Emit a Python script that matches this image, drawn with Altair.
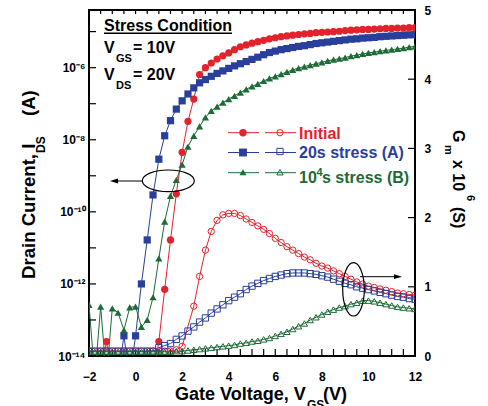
import altair as alt
import pandas as pd

# ---------------- data ----------------
V = [-2, -1.75, -1.5, -1.25, -1, -0.75, -0.5, -0.25, 0, 0.25, 0.5, 0.75,
     1, 1.25, 1.5, 1.75, 2, 2.25, 2.5, 2.75, 3, 3.25, 3.5, 3.75,
     4, 4.25, 4.5, 4.75, 5, 5.25, 5.5, 5.75,
     6, 6.25, 6.5, 6.75, 7, 7.25, 7.5, 7.75,
     8, 8.25, 8.5, 8.75, 9, 9.25, 9.5, 9.75,
     10, 10.25, 10.5, 10.75, 11, 11.25, 11.5, 11.75, 12]

# log10 of drain current (A); values below 1e-14 fall under the axis floor
id_initial_log = [-14.6, -14.6, -14.6, -13.6, -14.6, -14.6, -14.6, -14.6, -14.6, -14.6, -14.6, -14.6,
                  -13.6, -12.15, -10.78, -9.5, -8.35, -7.49, -6.87, -6.19, -6.0, -5.87, -5.76, -5.67,
                  -5.59, -5.5, -5.42, -5.37, -5.32, -5.28, -5.24, -5.2,
                  -5.17, -5.14, -5.12, -5.1, -5.08, -5.06, -5.05, -5.03,
                  -5.02, -5.01, -5.0, -4.99, -4.97, -4.96, -4.95, -4.94,
                  -4.94, -4.93, -4.92, -4.91, -4.91, -4.9, -4.9, -4.89, -4.89]
id_20s_log = [-14.6, -14.6, -14.6, -14.6, -14.6, -14.6, -13.44, -14.6, -13.44, -12.0, -10.78, -9.53,
              -8.54, -7.89, -7.47, -7.15, -6.92, -6.73, -6.56, -6.42, -6.33, -6.24, -6.16, -6.09,
              -6.02, -5.95, -5.89, -5.83, -5.77, -5.71, -5.64, -5.58,
              -5.54, -5.5, -5.47, -5.44, -5.41, -5.39, -5.36, -5.33,
              -5.31, -5.29, -5.27, -5.25, -5.23, -5.21, -5.2, -5.18,
              -5.17, -5.16, -5.14, -5.13, -5.12, -5.11, -5.1, -5.09, -5.08]
id_1e4_log = [-12.58, -14.6, -12.63, -14.6, -12.68, -12.8, -13.28, -12.65, -12.63, -13.19, -13.0, -12.37,
              -11.29, -10.27, -9.56, -9.11, -8.69, -8.19, -7.89, -7.63, -7.38, -7.2, -7.08, -6.97,
              -6.87, -6.78, -6.69, -6.6, -6.52, -6.45, -6.37, -6.3,
              -6.24, -6.18, -6.12, -6.06, -6.01, -5.97, -5.93, -5.89,
              -5.85, -5.81, -5.78, -5.75, -5.72, -5.68, -5.65, -5.62,
              -5.59, -5.57, -5.54, -5.52, -5.5, -5.48, -5.46, -5.43, -5.41]

# transconductance (x 1e-6 S)
gm_initial = [0.07] * 15 + [0.09, 0.14, None, 0.72, 1.15, 1.53, 1.80, 1.96, 2.04,
              2.06, 2.06, 2.03, 1.98, 1.93, 1.88, 1.83, 1.77,
              1.70, 1.64, 1.58, 1.53, 1.48, 1.43, 1.39, 1.34,
              1.30, 1.27, 1.23, 1.19, 1.15, 1.11, 1.07, 1.04,
              1.01, 0.99, 0.97, 0.95, 0.93, 0.91, 0.90, 0.89, 0.88]
gm_20s = [0.07] * 12 + [0.12, 0.15, 0.18, 0.24, 0.29, 0.36, 0.42, 0.49, 0.55, 0.62, 0.68, 0.74,
          0.80, 0.85, 0.90, 0.96, 1.01, 1.05, 1.09, 1.12,
          1.15, 1.17, 1.19, 1.20, 1.20, 1.20, 1.19, 1.18,
          1.16, 1.14, 1.11, 1.08, 1.05, 1.03, 1.00, 0.98,
          0.96, 0.94, 0.92, 0.90, 0.88, 0.86, 0.85, 0.83, 0.82]
gm_1e4 = [0.06] * 12 + [0.06, 0.06, 0.06, 0.07, 0.07, 0.08, 0.09, 0.10, 0.11, 0.12, 0.13, 0.14,
          0.15, 0.16, 0.18, 0.19, 0.21, 0.22, 0.24, 0.26,
          0.29, 0.32, 0.35, 0.39, 0.43, 0.47, 0.52, 0.56,
          0.60, 0.64, 0.67, 0.70, 0.72, 0.75, 0.77, 0.80,
          0.80, 0.79, 0.77, 0.75, 0.73, 0.71, 0.70, 0.69, 0.68]

series = ["Initial", "20s stress (A)", "10^4s stress (B)"]
x_labels = [-2, 0, 2, 4, 6, 8, 10, 12]
x_minor = [i / 2 for i in range(-4, 25)]
left_exps = [-14, -12, -10, -8, -6]
left_decades = [-14, -13, -12, -11, -10, -9, -8, -7, -6, -5]
right_ticks = [0, 1, 2, 3, 4, 5]

# ---------------- style ----------------
FONT = "Liberation Sans, Arial, sans-serif"
NARROW = "Liberation Sans Narrow, Liberation Sans, Arial, sans-serif"
RED, BLUE, GREEN = "#e2232b", "#2a3f9c", "#1d6b36"
colors = [RED, BLUE, GREEN]
W, H = 326, 346
L, T = 89, 10

rows = []
for s, vals in zip(series, [id_initial_log, id_20s_log, id_1e4_log]):
    for v, e in zip(V, vals):
        rows.append({"V": v, "Id": 10 ** e, "s": s})
df_id = pd.DataFrame(rows)
rows = []
for s, vals in zip(series, [gm_initial, gm_20s, gm_1e4]):
    for v, g in zip(V, vals):
        if g is not None:
            rows.append({"V": v, "Gm": g, "s": s})
df_gm = pd.DataFrame(rows)

x_scale = alt.Scale(domain=[-2, 12], nice=False, zero=False)
y_log = alt.Scale(type="log", domain=[1e-14, 10 ** -4.4], nice=False)
y_gm = alt.Scale(domain=[0, 5], nice=False, zero=True)
c_scale = alt.Scale(domain=series, range=colors)
sh_scale = alt.Scale(domain=series, range=["circle", "square", "triangle-up"])

SUP = {"-": "\u207b", "0": "\u2070", "1": "\u00b9", "2": "\u00b2", "4": "\u2074",
       "6": "\u2076", "8": "\u2078"}
expr = ""
for e in left_exps:
    lab = "10" + "".join(SUP[ch] for ch in str(e))
    expr += f"datum.value < {10.0 ** (e + 1):g} ? '{lab}' : "
expr += "''"

x_axis = alt.Axis(values=x_labels, ticks=False, domain=False, grid=False, title=None,
                  labelFontSize=12, labelPadding=15, labelFlush=False)
left_axis = alt.Axis(values=[10.0 ** e for e in left_exps], labelExpr=expr, ticks=False,
                     domain=False, grid=False, title=None, labelFontSize=12, labelPadding=4,
                     labelFlush=False)
right_axis = alt.Axis(orient="right", values=right_ticks, format="d", ticks=False, domain=False,
                      grid=False, title=None, labelFontSize=12, labelPadding=9)

X = alt.X("V:Q", scale=x_scale, axis=x_axis)
COL = alt.Color("s:N", scale=c_scale, legend=None)
SH = alt.Shape("s:N", scale=sh_scale, legend=None)

# ---------------- drain current (left, log) ----------------
id_base = alt.Chart(df_id).encode(x=X, y=alt.Y("Id:Q", scale=y_log, axis=left_axis), color=COL)
id_lines = id_base.mark_line(strokeWidth=1, clip=True)
id_pts = id_base.mark_point(filled=True, size=52, opacity=1, clip=True).encode(shape=SH)

ltick = alt.Chart(pd.DataFrame({"t": [10.0 ** e for e in left_decades]})).mark_rule(
    color="black", strokeWidth=1.2).encode(
    y=alt.Y("t:Q", scale=y_log, axis=left_axis), x=alt.value(0), x2=alt.value(7))
xt = pd.DataFrame({"t": x_minor})
btick = alt.Chart(xt).mark_rule(color="black", strokeWidth=1.2).encode(
    x=alt.X("t:Q", scale=x_scale, axis=x_axis), y=alt.value(H - 7), y2=alt.value(H))
ttick = alt.Chart(xt).mark_rule(color="black", strokeWidth=1.2).encode(
    x=alt.X("t:Q", scale=x_scale, axis=x_axis), y=alt.value(0), y2=alt.value(4))

id_group = alt.layer(id_lines, id_pts, ltick, btick, ttick)

# ---------------- transconductance (right, linear) ----------------
gm_base = alt.Chart(df_gm).encode(x=X, y=alt.Y("Gm:Q", scale=y_gm, axis=right_axis), color=COL)
gm_lines = gm_base.mark_line(strokeWidth=1, clip=True)
gm_pts = gm_base.mark_point(filled=False, size=40, strokeWidth=1, opacity=1, clip=True).encode(shape=SH)
rtick = alt.Chart(pd.DataFrame({"t": right_ticks})).mark_rule(color="black", strokeWidth=1.2).encode(
    y=alt.Y("t:Q", scale=y_gm, axis=right_axis), x=alt.value(W - 7), x2=alt.value(W))
gm_group = alt.layer(gm_lines, gm_pts, rtick)

# ---------------- annotations ----------------
one = pd.DataFrame({"k": [0]})


def txt(s, x, y, size, color="black", angle=0, font=FONT):
    return alt.Chart(one).mark_text(text=s, fontSize=size, fontWeight="bold", font=font,
                                    color=color, angle=angle, align="left",
                                    baseline="alphabetic").encode(
        x=alt.value(x - L), y=alt.value(y - T))


def hline(x1, x2, y, color="black", width=1.0):
    return alt.Chart(one).mark_rule(color=color, strokeWidth=width).encode(
        x=alt.value(x1 - L), x2=alt.value(x2 - L), y=alt.value(y - T))


def sym(shape, x, y, size, color, filled, sw=1.0):
    return alt.Chart(one).mark_point(shape=shape, size=size, color=color, filled=filled,
                                     opacity=1, strokeWidth=sw).encode(
        x=alt.value(x - L), y=alt.value(y - T))


def ellipse_path(rx, ry):
    c = 0.5523
    return (f"M{rx},0 C{rx},{c*ry:.4f} {c*rx:.4f},{ry} 0,{ry} "
            f"C{-c*rx:.4f},{ry} {-rx},{c*ry:.4f} {-rx},0 "
            f"C{-rx},{-c*ry:.4f} {-c*rx:.4f},{-ry} 0,{-ry} "
            f"C{c*rx:.4f},{-ry} {rx},{-c*ry:.4f} {rx},0 Z")


ann = [
    # stress condition box
    txt("Stress Condition", 104, 31, 16),
    hline(104, 232, 33.3, width=1.5),
    txt("V", 104, 53, 16), txt("GS", 116, 61.5, 11), txt("= 10V", 133, 53, 16),
    txt("V", 104, 80, 16), txt("DS", 116, 88.5, 11), txt("= 20V", 133, 80, 16),
    # legend
    hline(228, 259, 132.7, RED), hline(265, 296, 132.7, RED),
    sym("circle", 243, 132.7, 55, RED, True), sym("circle", 280, 132.7, 40, RED, False),
    hline(228, 259, 152.5, BLUE), hline(265, 296, 152.5, BLUE),
    sym("square", 243, 152.5, 62, BLUE, True), sym("square", 280, 151.5, 40, BLUE, False),
    hline(228, 259, 172.7, GREEN), hline(265, 296, 172.7, GREEN),
    sym("triangle-up", 243, 172.2, 50, GREEN, True), sym("triangle-up", 280, 172.2, 40, GREEN, False),
    txt("Initial", 299, 138.5, 16, RED),
    txt("20s stress (A)", 299, 157.5, 16, BLUE),
    txt("10", 299, 183, 16, GREEN), txt("4", 316.5, 176, 11, GREEN),
    txt("s stress (B)", 322, 183, 16, GREEN),
    # ellipses and arrows
    sym(ellipse_path(1, 0.415), 168.3, 180.8, 2704, "black", False, 1.2),
    hline(116, 142, 181), sym("M-1,0L1,-0.6L1,0.6Z", 114, 181, 64, "black", True),
    sym(ellipse_path(0.405, 1), 353.5, 289.3, 2852, "black", False, 1.2),
    hline(360, 396, 276.7), sym("M1,0L-1,-0.6L-1,0.6Z", 398, 276.7, 64, "black", True),
    # axis titles
    txt("Gate Voltage, V", 175, 399.5, 18), txt("GS", 307, 409, 12), txt("(V)", 323, 399.5, 18),
    txt("Drain Current, I", 35, 279, 18.6, angle=270, font=NARROW),
    txt("DS", 45, 153, 12, angle=270, font=NARROW),
    txt("(A)", 35, 116, 18.6, angle=270, font=NARROW),
    txt("G", 453, 130, 16, angle=90), txt("m", 445, 145, 11, angle=90),
    txt("x 10", 453, 160, 16, angle=90), txt("6", 467, 195, 11, angle=90),
    txt("(S)", 453, 207, 16, angle=90),
]

chart = alt.layer(id_group, gm_group, *ann).resolve_scale(y="independent").properties(
    width=W, height=H,
    autosize=alt.AutoSizeParams(type="none"),
    padding={"left": L, "top": T, "right": 488 - L - W, "bottom": 406 - T - H},
).configure_view(stroke="black", strokeWidth=2).configure_axis(
    labelFont=FONT, labelFontWeight="bold", labelColor="black")

chart.save("out.html", embed_options={"renderer": "svg", "actions": False})
